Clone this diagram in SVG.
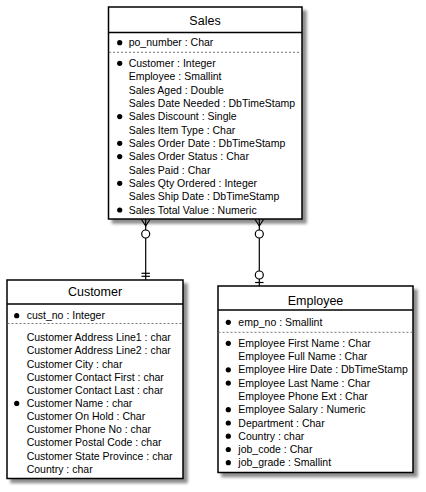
<svg xmlns="http://www.w3.org/2000/svg" width="426" height="492" viewBox="0 0 426 492">
<defs>
<filter id="sh" x="-10%" y="-10%" width="130%" height="130%">
<feGaussianBlur in="SourceAlpha" stdDeviation="1.6"/>
<feOffset dx="4" dy="4" result="b"/>
<feComponentTransfer><feFuncA type="linear" slope="0.45"/></feComponentTransfer>
<feMerge><feMergeNode/><feMergeNode in="SourceGraphic"/></feMerge>
</filter>
</defs>
<style>
.box{fill:#fff;stroke:#000;stroke-width:1.5}
.sep{stroke:#000;stroke-width:1.5}
.dash{stroke:#777;stroke-width:1;stroke-dasharray:2,2}
.t{font-family:"Liberation Sans",Arial,sans-serif;font-size:10.5px;fill:#000}
.h{font-family:"Liberation Sans",Arial,sans-serif;font-size:12.5px;fill:#000;text-anchor:middle}
.b{fill:#000}
.c{stroke:#000;stroke-width:1.2;fill:none}
.o{stroke:#000;stroke-width:1.2;fill:#fff}
</style>
<g id="connectors">
<line class="c" x1="145.7" y1="219" x2="145.7" y2="280"/>
<polyline class="c" points="141.5,219.5 145.7,226 149.9,219.5"/>
<circle class="o" cx="145.7" cy="234" r="4"/>
<line class="c" x1="141.5" y1="273.3" x2="149.9" y2="273.3"/>
<line class="c" x1="141.5" y1="276.3" x2="149.9" y2="276.3"/>
<line class="c" x1="259.3" y1="219" x2="259.3" y2="286"/>
<polyline class="c" points="255.1,219.5 259.3,226 263.5,219.5"/>
<circle class="o" cx="259.3" cy="234" r="4"/>
<circle class="o" cx="259.3" cy="275" r="4"/>
<line class="c" x1="255.1" y1="282.5" x2="263.5" y2="282.5"/>
</g>
<g id="sales">
<rect class="box" x="108.5" y="7" width="193.5" height="212" filter="url(#sh)"/>
<line class="sep" x1="108.5" y1="32.5" x2="302" y2="32.5"/>
<line class="dash" x1="109" y1="52.3" x2="301.5" y2="52.3"/>
<text class="h" x="205" y="24.5">Sales</text>
<circle class="b" cx="119.7" cy="42.7" r="2.6"/>
<text class="t" x="128.7" y="46.3">po_number : Char</text>
<circle class="b" cx="119.7" cy="63.3" r="2.6"/>
<text class="t" x="128.7" y="66.9">Customer : Integer</text>
<text class="t" x="128.7" y="80.2">Employee : Smallint</text>
<text class="t" x="128.7" y="93.5">Sales Aged : Double</text>
<text class="t" x="128.7" y="106.9">Sales Date Needed : DbTimeStamp</text>
<circle class="b" cx="119.7" cy="116.6" r="2.6"/>
<text class="t" x="128.7" y="120.2">Sales Discount : Single</text>
<text class="t" x="128.7" y="133.5">Sales Item Type : Char</text>
<circle class="b" cx="119.7" cy="143.3" r="2.6"/>
<text class="t" x="128.7" y="146.9">Sales Order Date : DbTimeStamp</text>
<circle class="b" cx="119.7" cy="156.6" r="2.6"/>
<text class="t" x="128.7" y="160.2">Sales Order Status : Char</text>
<text class="t" x="128.7" y="173.6">Sales Paid : Char</text>
<circle class="b" cx="119.7" cy="183.3" r="2.6"/>
<text class="t" x="128.7" y="186.9">Sales Qty Ordered : Integer</text>
<text class="t" x="128.7" y="200.2">Sales Ship Date : DbTimeStamp</text>
<circle class="b" cx="119.7" cy="210" r="2.6"/>
<text class="t" x="128.7" y="213.6">Sales Total Value : Numeric</text>
</g>
<g id="customer">
<rect class="box" x="7" y="280" width="176" height="198.5" filter="url(#sh)"/>
<line class="sep" x1="7" y1="304" x2="183" y2="304"/>
<line class="dash" x1="7.5" y1="323.5" x2="182.5" y2="323.5"/>
<text class="h" x="95" y="296">Customer</text>
<circle class="b" cx="16.7" cy="315.7" r="2.6"/>
<text class="t" x="26.7" y="319.3">cust_no : Integer</text>
<text class="t" x="26.7" y="341.3">Customer Address Line1 : char</text>
<text class="t" x="26.7" y="354.4">Customer Address Line2 : char</text>
<text class="t" x="26.7" y="367.6">Customer City : char</text>
<text class="t" x="26.7" y="380.7">Customer Contact First : char</text>
<text class="t" x="26.7" y="393.8">Customer Contact Last : char</text>
<circle class="b" cx="16.7" cy="403.4" r="2.6"/>
<text class="t" x="26.7" y="407">Customer Name : char</text>
<text class="t" x="26.7" y="420.1">Customer On Hold : Char</text>
<text class="t" x="26.7" y="433.2">Customer Phone No : char</text>
<text class="t" x="26.7" y="446.4">Customer Postal Code : char</text>
<text class="t" x="26.7" y="459.5">Customer State Province : char</text>
<text class="t" x="26.7" y="472.6">Country : char</text>
</g>
<g id="employee">
<rect class="box" x="218" y="286" width="195" height="186.5" filter="url(#sh)"/>
<line class="sep" x1="218" y1="310" x2="413" y2="310"/>
<line class="dash" x1="218.5" y1="332.3" x2="412.5" y2="332.3"/>
<text class="h" x="315.5" y="304.5">Employee</text>
<circle class="b" cx="228.3" cy="322.3" r="2.6"/>
<text class="t" x="238.3" y="325.9">emp_no : Smallint</text>
<circle class="b" cx="228.3" cy="343.3" r="2.6"/>
<text class="t" x="238.3" y="346.9">Employee First Name : Char</text>
<text class="t" x="238.3" y="360.2">Employee Full Name : Char</text>
<circle class="b" cx="228.3" cy="369.8" r="2.6"/>
<text class="t" x="238.3" y="373.4">Employee Hire Date : DbTimeStamp</text>
<circle class="b" cx="228.3" cy="383.1" r="2.6"/>
<text class="t" x="238.3" y="386.7">Employee Last Name : Char</text>
<text class="t" x="238.3" y="400">Employee Phone Ext : Char</text>
<circle class="b" cx="228.3" cy="409.7" r="2.6"/>
<text class="t" x="238.3" y="413.3">Employee Salary : Numeric</text>
<circle class="b" cx="228.3" cy="423" r="2.6"/>
<text class="t" x="238.3" y="426.6">Department : Char</text>
<circle class="b" cx="228.3" cy="436.2" r="2.6"/>
<text class="t" x="238.3" y="439.8">Country : char</text>
<circle class="b" cx="228.3" cy="449.5" r="2.6"/>
<text class="t" x="238.3" y="453.1">job_code : Char</text>
<circle class="b" cx="228.3" cy="462.7" r="2.6"/>
<text class="t" x="238.3" y="466.3">job_grade : Smallint</text>
</g>
</svg>
